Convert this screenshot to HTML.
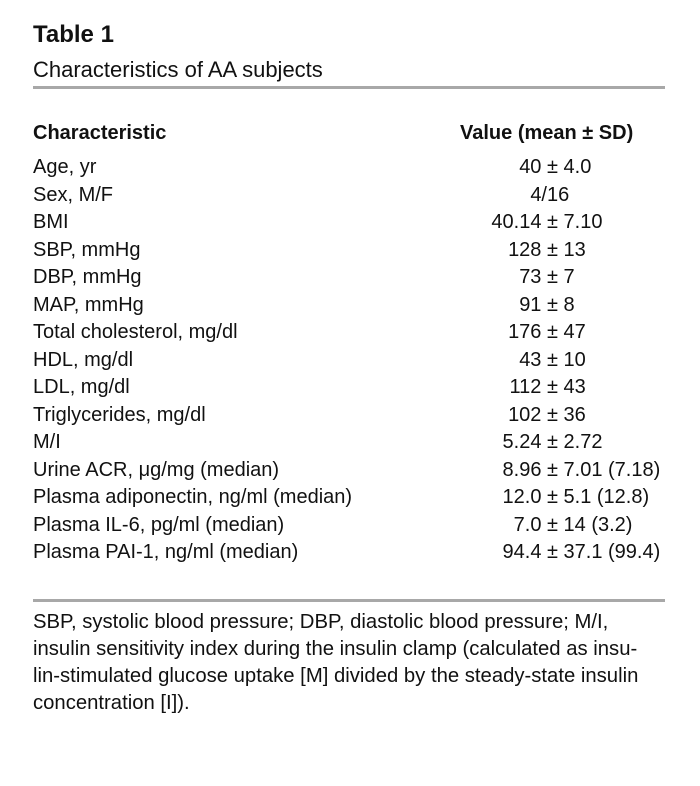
<!DOCTYPE html>
<html><head><meta charset="utf-8"><style>
body{margin:0;background:#fff;}
#c{position:relative;width:700px;height:786px;font-family:"Liberation Sans",Arial,sans-serif;color:#111;}
.a{position:absolute;white-space:nowrap;}
.t{left:33px;top:20px;font-size:24px;font-weight:bold;line-height:30px;}
.s{left:33px;top:56px;font-size:22px;line-height:28px;}
.rule{position:absolute;left:33px;width:632px;height:3px;background:#a8a8a8;}
.h{font-size:20px;font-weight:bold;line-height:28px;}
.r{font-size:20px;line-height:27.5px;}
.l{left:33px;}
.v{left:387px;width:340px;}
.v span.L{display:inline-block;width:160px;text-align:right;white-space:pre;}
.f{left:33px;top:609px;font-size:20.3px;line-height:27px;}
</style></head><body><div id="c">
<div class="a t">Table 1</div>
<div class="a s">Characteristics of AA subjects</div>
<div class="rule" style="top:86px"></div>
<div class="a h l" style="top:119px">Characteristic</div>
<div class="a h" style="top:119px;left:460px">Value (mean ± SD)</div>
<div class="rule" style="top:599px"></div>
<div class="a f">SBP, systolic blood pressure; DBP, diastolic blood pressure; M/I,<br>insulin sensitivity index during the insulin clamp (calculated as insu-<br>lin-stimulated glucose uptake [M] divided by the steady-state insulin<br>concentration [I]).</div>
<div class="a r l" style="top:154px">Age, yr</div><div class="a r v" style="top:154px"><span class="L">40&nbsp;</span>± 4.0</div>
<div class="a r l" style="top:181.5px">Sex, M/F</div><div class="a r v" style="top:181.5px"><span class="L">4/</span>16</div>
<div class="a r l" style="top:209px">BMI</div><div class="a r v" style="top:209px"><span class="L">40.14&nbsp;</span>± 7.10</div>
<div class="a r l" style="top:236.5px">SBP, mmHg</div><div class="a r v" style="top:236.5px"><span class="L">128&nbsp;</span>± 13</div>
<div class="a r l" style="top:264px">DBP, mmHg</div><div class="a r v" style="top:264px"><span class="L">73&nbsp;</span>± 7</div>
<div class="a r l" style="top:291.5px">MAP, mmHg</div><div class="a r v" style="top:291.5px"><span class="L">91&nbsp;</span>± 8</div>
<div class="a r l" style="top:319px">Total cholesterol, mg/dl</div><div class="a r v" style="top:319px"><span class="L">176&nbsp;</span>± 47</div>
<div class="a r l" style="top:346.5px">HDL, mg/dl</div><div class="a r v" style="top:346.5px"><span class="L">43&nbsp;</span>± 10</div>
<div class="a r l" style="top:374px">LDL, mg/dl</div><div class="a r v" style="top:374px"><span class="L">112&nbsp;</span>± 43</div>
<div class="a r l" style="top:401.5px">Triglycerides, mg/dl</div><div class="a r v" style="top:401.5px"><span class="L">102&nbsp;</span>± 36</div>
<div class="a r l" style="top:429px">M/I</div><div class="a r v" style="top:429px"><span class="L">5.24&nbsp;</span>± 2.72</div>
<div class="a r l" style="top:456.5px">Urine ACR, μg/mg (median)</div><div class="a r v" style="top:456.5px"><span class="L">8.96&nbsp;</span>± 7.01 (7.18)</div>
<div class="a r l" style="top:484px">Plasma adiponectin, ng/ml (median)</div><div class="a r v" style="top:484px"><span class="L">12.0&nbsp;</span>± 5.1 (12.8)</div>
<div class="a r l" style="top:511.5px">Plasma IL-6, pg/ml (median)</div><div class="a r v" style="top:511.5px"><span class="L">7.0&nbsp;</span>± 14 (3.2)</div>
<div class="a r l" style="top:539px">Plasma PAI-1, ng/ml (median)</div><div class="a r v" style="top:539px"><span class="L">94.4&nbsp;</span>± 37.1 (99.4)</div>
</div></body></html>
